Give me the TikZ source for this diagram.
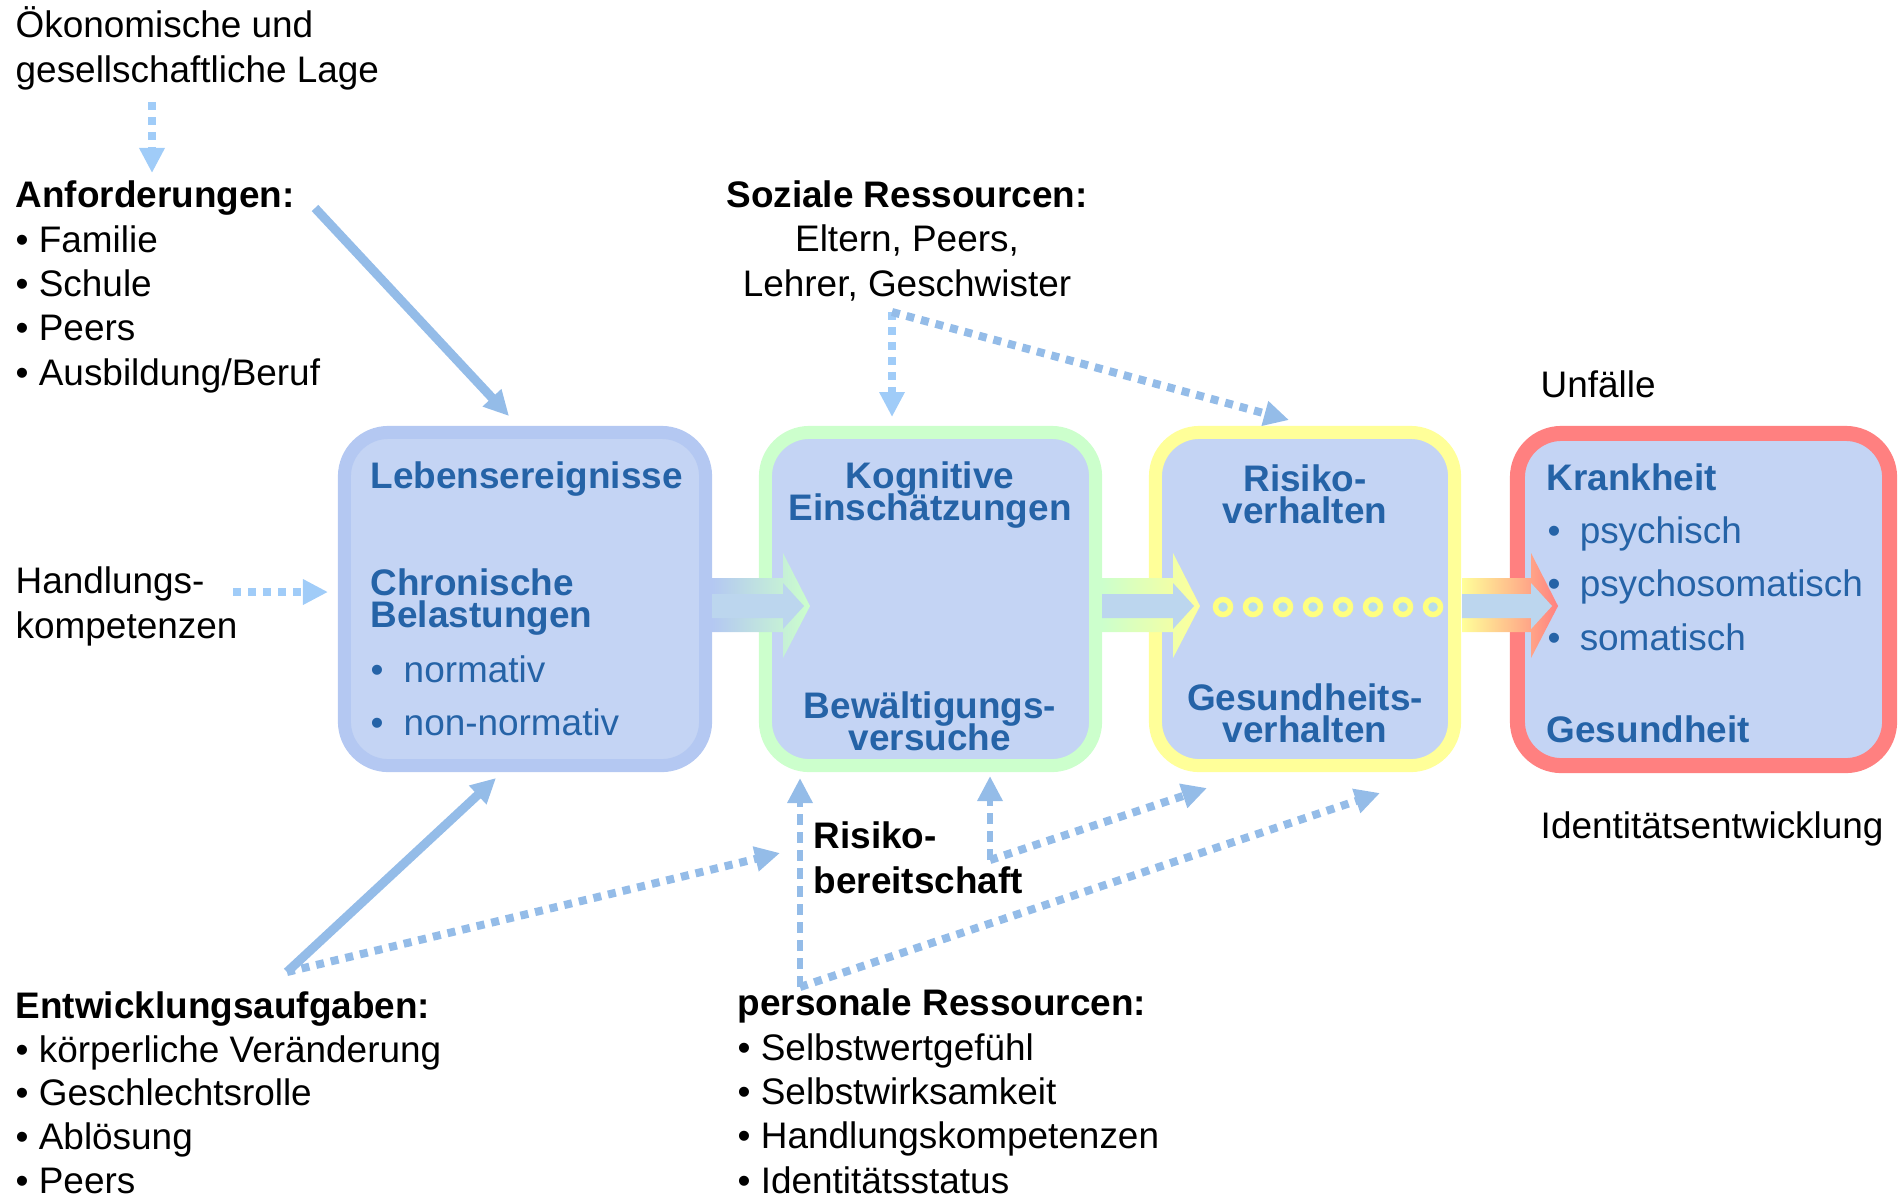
\documentclass[tikz,border=0pt]{standalone}
\usepackage{fontspec}
\setmainfont{Liberation Sans}
\usetikzlibrary{arrows.meta,calc,positioning}

\definecolor{boxfill}{HTML}{C4D4F4}
\definecolor{borderblue}{HTML}{B4C8F2}
\definecolor{bordergreen}{HTML}{CCFFCC}
\definecolor{borderyellow}{HTML}{FFFF99}
\definecolor{borderred}{HTML}{FF8080}
\definecolor{boxtext}{HTML}{2563A7}
\definecolor{arrowblue}{HTML}{94BCE8}
\definecolor{arrowlight}{HTML}{A0CCF8}
\definecolor{arrowin}{HTML}{BCD6EE}
\definecolor{ringyellow}{HTML}{FFFF80}
\definecolor{ringin}{HTML}{B8DEE8}

\lineskiplimit=-20pt

\tikzset{
  box/.style={rectangle, rounded corners=0.44cm, fill=boxfill, line width=0.13cm, inner sep=0pt},
  txt/.style={font=\fontsize{10.5}{12.6}\selectfont, align=left, anchor=base west, inner sep=0pt},
  bluetxt/.style={txt, text=boxtext},
  bluehead/.style={bluetxt, font=\bfseries\fontsize{10.5}{9.1}\selectfont},
  solidarrow/.style={->, draw=arrowblue, line width=0.09cm},
  dotarrow/.style={->, draw=arrowblue, line width=0.08cm, dash pattern=on 0.08cm off 0.07cm},
  lightdotarrow/.style={dotarrow, draw=arrowlight},
  dasharrow/.style={->, draw=arrowblue, line width=0.065cm, dash pattern=on 0.11cm off 0.07cm},
  ring/.style={draw=ringyellow, fill=ringin, line width=0.055cm}
}

\newcommand{\bul}[1]{\makebox[#1][l]{•}}
% block arrow: shaft start, head start, left colour, right colour
\newcommand{\blockarrow}[4]{%
  \shade[left color=#3, right color=#4] (#1,578) -- (#2,578) -- (#2,553) -- ({#2+27},606) -- (#2,658) -- (#2,632) -- (#1,632) -- cycle;
  \fill[arrowin] (#1,594) -- (#2,594) -- (#2,583) -- ({#2+21},606) -- (#2,629) -- (#2,618) -- (#1,618) -- cycle;
}

\begin{document}
\begin{tikzpicture}[x=0.01cm,y=-0.01cm,>={Triangle[length=0.25cm,width=0.24cm]}]
\useasboundingbox (0,0) rectangle (1901,1199);

% the four boxes
\node[box, draw=borderblue, minimum width=3.61cm, minimum height=3.33cm] (leben) at (525,599) {};
\node[box, draw=bordergreen, minimum width=3.30cm, minimum height=3.33cm] (kogn) at (930.5,599) {};
\node[box, draw=borderyellow, minimum width=2.99cm, minimum height=3.33cm] (verh) at (1305,599) {};
\node[box, draw=borderred, line width=0.15cm, minimum width=3.72cm, minimum height=3.32cm] (krank) at (1703.5,599.5) {};

% block arrows between the boxes
\blockarrow{712}{783}{borderblue}{bordergreen}
\blockarrow{1102}{1173}{bordergreen}{borderyellow}
\blockarrow{1462}{1531}{borderyellow}{borderred}

% box texts (multi-line nodes sit on the baseline of their last line)
\node[bluehead] (lebtitle) at (370,488) {Lebensereignisse};
\node[bluehead] (chron) at (370,627) {Chronische\\Belastungen};
\node[bluetxt, font=\fontsize{10.5}{15}\selectfont] (normlist) at (370,735) {\bul{0.33cm}normativ\\\bul{0.33cm}non-normativ};
\node[bluehead, align=center, anchor=base] (kogntitle) at (930,520) {Kognitive\\Einschätzungen};
\node[bluehead, align=center, anchor=base] (bewaelt) at (930,750) {Bewältigungs-\\versuche};
\node[bluehead, align=center, anchor=base] (risverh) at (1305,523) {Risiko-\\verhalten};
\node[bluehead, align=center, anchor=base] (gesverh) at (1305,742) {Gesundheits-\\verhalten};
\node[bluehead] (kranktitle) at (1546,490) {Krankheit};
\node[bluetxt, font=\fontsize{10.5}{15.2}\selectfont] (kranklist) at (1547,650) {\bul{0.32cm}psychisch\\\bul{0.32cm}psychosomatisch\\\bul{0.32cm}somatisch};
\node[bluehead] (gesund) at (1546,742) {Gesundheit};

% small rings in the third box
\foreach \i in {0,...,7}
  \draw[ring] (1223+30*\i,607) circle[radius=0.075cm];

% outer labels
\node[txt] (oeko) at (15,82) {Ökonomische und\\gesellschaftliche Lage};
\node[txt] (anf) at (15,385) {\textbf{Anforderungen:}\\• Familie\\• Schule\\• Peers\\• Ausbildung/Beruf};
\node[txt] (handl) at (15,638) {Handlungs-\\kompetenzen};
\node[txt, font=\fontsize{10.5}{12.4}\selectfont] (entw) at (15,1193) {\textbf{Entwicklungsaufgaben:}\\• körperliche Veränderung\\• Geschlechtsrolle\\• Ablösung\\• Peers};
\node[txt, font=\fontsize{10.5}{12.6}\selectfont] (pers) at (737,1193) {\textbf{personale Ressourcen:}\\• Selbstwertgefühl\\• Selbstwirksamkeit\\• Handlungskompetenzen\\• Identitätsstatus};
\node[txt, align=center, anchor=base] (soz) at (907,296) {\textbf{Soziale Ressourcen:}\\Eltern, Peers,\\Lehrer, Geschwister};
\node[txt, font=\bfseries\fontsize{10.5}{12.6}\selectfont] (risbereit) at (813,893) {Risiko-\\bereitschaft};
\node[txt] (unf) at (1540,397) {Unfälle};
\node[txt] (ident) at (1540,838) {Identitätsentwicklung};

% connector ends
\coordinate (oekoout) at (152,102);
\coordinate (anfin) at (152,173);
\coordinate (anfout) at (315,208);
\coordinate (lebin) at (509,416);
\coordinate (handlout) at (233,592);
\coordinate (handlin) at (328,592);
\coordinate (entwout) at (287,972);
\coordinate (lebbot) at (496,778);
\coordinate (kognleft) at (780,853);
\coordinate (persout) at (800,987);
\coordinate (kognbot) at (800,778);
\coordinate (verhbot) at (1380,793);
\coordinate (risout) at (990,860);
\coordinate (kognbot2) at (990,776);
\coordinate (verhbot2) at (1207,788);
\coordinate (sozout) at (892,312);
\coordinate (kogntop) at (892,417);
\coordinate (verhtop) at (1289,420);

\draw[lightdotarrow] (oekoout) -- (anfin);
\draw[solidarrow] (anfout) -- (lebin);
\draw[lightdotarrow] (handlout) -- (handlin);
\draw[solidarrow] (entwout) -- (lebbot);
\draw[dotarrow] (entwout) -- (kognleft);
\draw[dasharrow] (persout) -- (kognbot);
\draw[dotarrow] (persout) -- (verhbot);
\draw[dasharrow] (risout) -- (kognbot2);
\draw[dotarrow] (risout) -- (verhbot2);
\draw[lightdotarrow] (sozout) -- (kogntop);
\draw[dotarrow] (sozout) -- (verhtop);
\end{tikzpicture}
\end{document}
